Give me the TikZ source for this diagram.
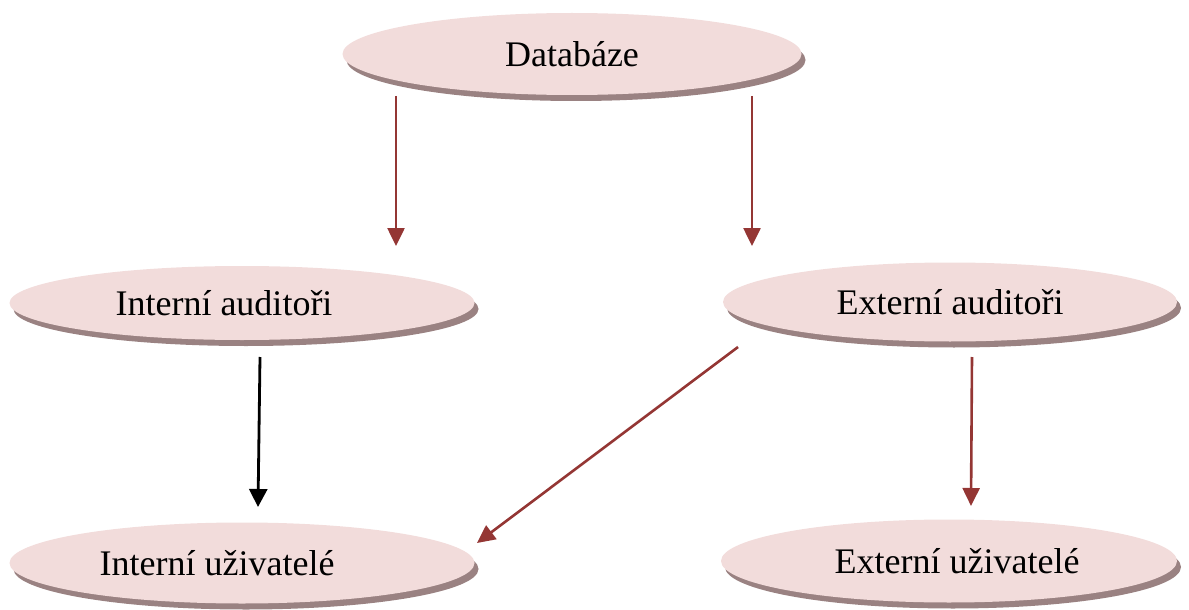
\documentclass[tikz,border=0pt]{standalone}
\usepackage{fontspec}
\setmainfont{Liberation Serif}
\usetikzlibrary{arrows.meta,shapes.geometric,shadows}
\definecolor{ellfill}{HTML}{F2DCDB}
\definecolor{ellshadow}{HTML}{9A8282}
\definecolor{arrred}{HTML}{943634}
\tikzset{
  ovaltext/.style={font=\fontsize{18pt}{20pt}\selectfont},
  oval/.style={ellipse, fill=ellfill, inner sep=0pt,
    drop shadow={shadow xshift=2pt, shadow yshift=-3pt, fill=ellshadow, opacity=1},
    ovaltext},
  every label/.style={ovaltext},
  redarrow/.style={draw=arrred, line width=1.3pt, -{Triangle[length=9pt,width=8.5pt]}},
  blackarrow/.style={draw=black, line width=1.4pt, -{Triangle[length=9pt,width=9pt]}}
}
\begin{document}
\begin{tikzpicture}[x=0.5pt,y=-0.5pt]
\useasboundingbox (0,0) rectangle (1189,610);
\node[oval, minimum width=229.5pt, minimum height=41pt] (db) at (572,54) {Databáze};
\node[oval, minimum width=232.5pt, minimum height=37pt,
  label={[xshift=-9pt]center:Interní auditoři}] (ia) at (242,303) {};
\node[oval, minimum width=227pt, minimum height=39.5pt] (ea) at (950,302) {Externí auditoři};
\node[oval, minimum width=232.5pt, minimum height=40.5pt,
  label={[xshift=-12.5pt]center:Interní uživatelé}] (iu) at (242,563) {};
\node[oval, minimum width=228pt, minimum height=41.5pt,
  label={[xshift=4pt]center:Externí uživatelé}] (eu) at (949,561) {};

\coordinate (dbA) at (396,96);
\coordinate (iaIn) at (396,246);
\coordinate (dbB) at (752,96);
\coordinate (eaIn) at (752,246);
\coordinate (iaOut) at (260,357);
\coordinate (iuIn) at (258,507);
\coordinate (eaOutA) at (738,347);
\coordinate (iuInB) at (477,543);
\coordinate (eaOutB) at (972,357);
\coordinate (euIn) at (971,506);

\draw[redarrow] (dbA) -- (iaIn);
\draw[redarrow] (dbB) -- (eaIn);
\draw[blackarrow] (iaOut) -- (iuIn);
\draw[redarrow] (eaOutA) -- (iuInB);
\draw[redarrow] (eaOutB) -- (euIn);
\end{tikzpicture}
\end{document}
